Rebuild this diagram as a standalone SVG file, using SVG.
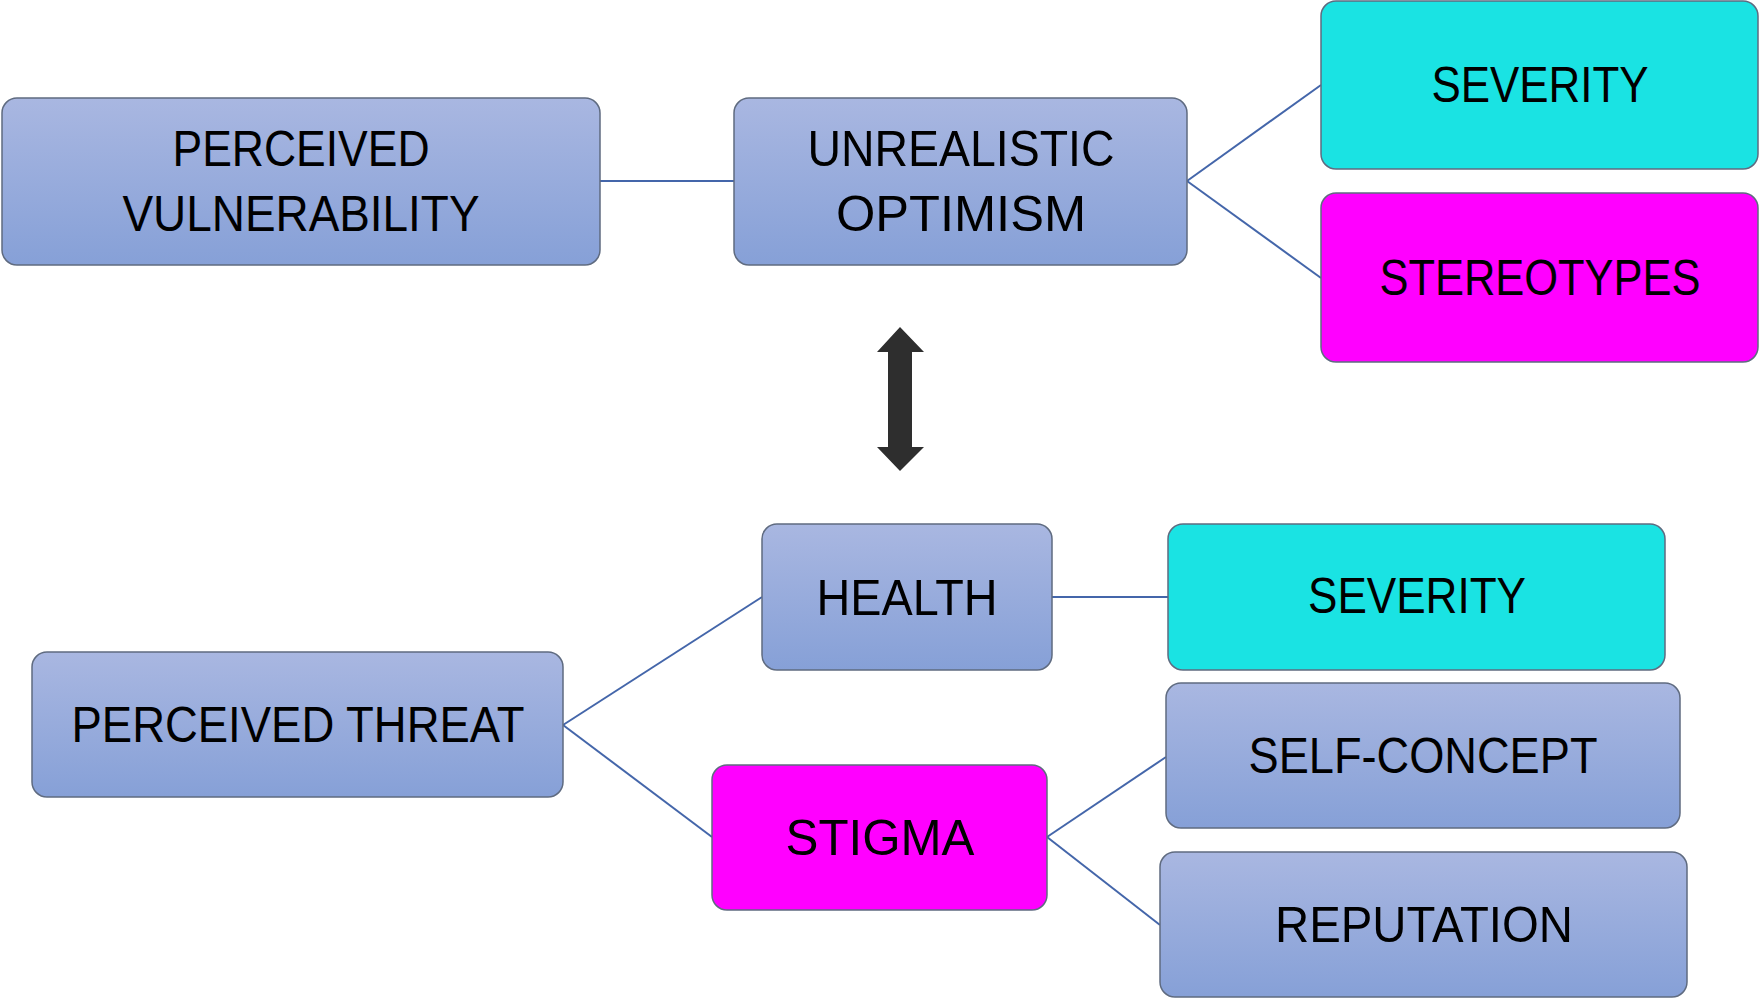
<svg xmlns="http://www.w3.org/2000/svg" width="1760" height="998" viewBox="0 0 1760 998">
<defs>
<linearGradient id="blue" x1="0" y1="0" x2="0" y2="1">
<stop offset="0" stop-color="#a9b7e1"/>
<stop offset="1" stop-color="#86a0d7"/>
</linearGradient>
</defs>
<style>
.box{stroke:#5f6b80;stroke-width:1.5}
.b{fill:url(#blue)}
.c{fill:#1ae3e3}
.m{fill:#ff00ff}
.t{font-family:"Liberation Sans",Arial,sans-serif;font-size:50px;fill:#000;text-anchor:middle}
.conn line{stroke:#4466aa;stroke-width:2}
</style>
<rect width="1760" height="998" fill="#fff"/>
<g id="connectors" class="conn">
<line x1="600" y1="181" x2="734" y2="181"/>
<line x1="1187" y1="181" x2="1321" y2="85"/>
<line x1="1187" y1="181" x2="1321" y2="278"/>
<line x1="563" y1="725" x2="762" y2="597"/>
<line x1="563" y1="725" x2="712" y2="837"/>
<line x1="1052" y1="597" x2="1168" y2="597"/>
<line x1="1047" y1="837" x2="1166" y2="757"/>
<line x1="1047" y1="837" x2="1160" y2="925"/>
</g>
<g id="arrow">
<polygon points="900,327 924,352 912,352 912,447 924,447 900,471 877,447 888,447 888,352 877,352" fill="#2e2e2e"/>
</g>
<g id="perceived-vulnerability">
<rect class="box b" x="2" y="98" width="598" height="167" rx="15"/>
<text class="t" x="301" y="166" textLength="257" lengthAdjust="spacingAndGlyphs">PERCEIVED</text>
<text class="t" x="301" y="231" textLength="357" lengthAdjust="spacingAndGlyphs">VULNERABILITY</text>
</g>
<g id="unrealistic-optimism">
<rect class="box b" x="734" y="98" width="453" height="167" rx="15"/>
<text class="t" x="961" y="166" textLength="307" lengthAdjust="spacingAndGlyphs">UNREALISTIC</text>
<text class="t" x="961" y="231" textLength="250" lengthAdjust="spacingAndGlyphs">OPTIMISM</text>
</g>
<g id="severity-top">
<rect class="box c" x="1321" y="1" width="437" height="168" rx="15"/>
<text class="t" x="1540" y="102" textLength="217" lengthAdjust="spacingAndGlyphs">SEVERITY</text>
</g>
<g id="stereotypes">
<rect class="box m" x="1321" y="193" width="437" height="169" rx="15"/>
<text class="t" x="1540" y="295" textLength="321" lengthAdjust="spacingAndGlyphs">STEREOTYPES</text>
</g>
<g id="health">
<rect class="box b" x="762" y="524" width="290" height="146" rx="15"/>
<text class="t" x="907" y="615" textLength="181" lengthAdjust="spacingAndGlyphs">HEALTH</text>
</g>
<g id="severity-bottom">
<rect class="box c" x="1168" y="524" width="497" height="146" rx="15"/>
<text class="t" x="1417" y="613" textLength="218" lengthAdjust="spacingAndGlyphs">SEVERITY</text>
</g>
<g id="perceived-threat">
<rect class="box b" x="32" y="652" width="531" height="145" rx="15"/>
<text class="t" x="298" y="742" textLength="453" lengthAdjust="spacingAndGlyphs">PERCEIVED THREAT</text>
</g>
<g id="stigma">
<rect class="box m" x="712" y="765" width="335" height="145" rx="15"/>
<text class="t" x="880" y="855" textLength="189" lengthAdjust="spacingAndGlyphs">STIGMA</text>
</g>
<g id="self-concept">
<rect class="box b" x="1166" y="683" width="514" height="145" rx="15"/>
<text class="t" x="1423" y="773" textLength="349" lengthAdjust="spacingAndGlyphs">SELF-CONCEPT</text>
</g>
<g id="reputation">
<rect class="box b" x="1160" y="852" width="527" height="145" rx="15"/>
<text class="t" x="1424" y="942" textLength="298" lengthAdjust="spacingAndGlyphs">REPUTATION</text>
</g>
</svg>
